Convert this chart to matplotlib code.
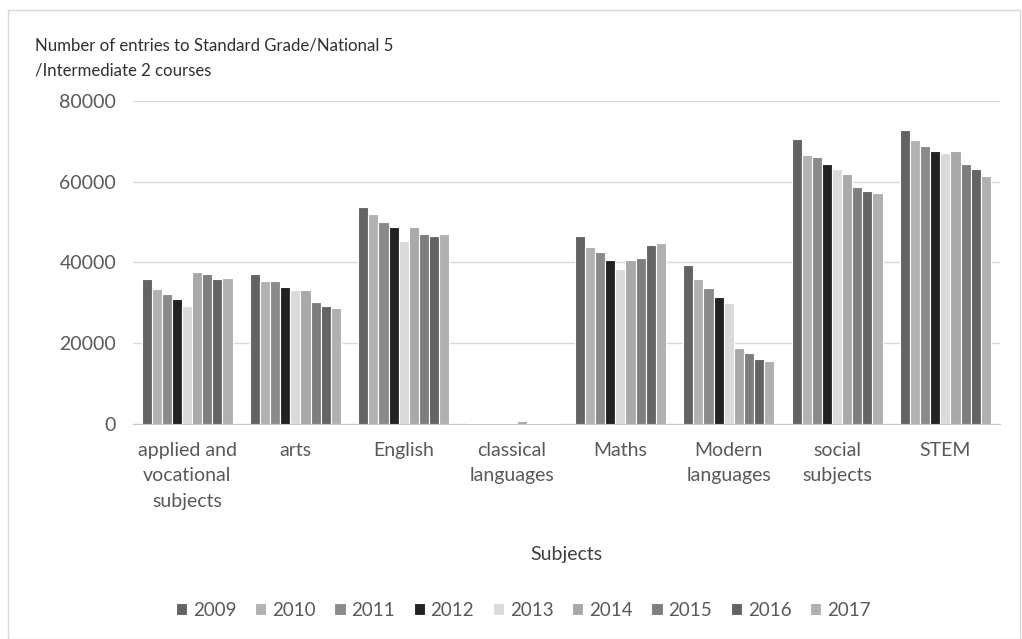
import matplotlib
matplotlib.use("Agg")
from matplotlib import pyplot as plt
from matplotlib.patches import Rectangle
import numpy as np

plt.rcParams['font.family'] = ['Lato', 'DejaVu Sans']

subjects = ["applied and\nvocational\nsubjects", "arts", "English", "classical\nlanguages",
            "Maths", "Modern\nlanguages", "social\nsubjects", "STEM"]
years = ["2009", "2010", "2011", "2012", "2013", "2014", "2015", "2016", "2017"]
colors = ["#636363", "#b2b2b2", "#8a8a8a", "#222222", "#dadada",
          "#a9a9a9", "#7e7e7e", "#646464", "#b0b0b0"]

# entries per subject, one list per year
e2009 = [35800, 37200, 53700, 150, 46600, 39400, 70700, 72900]
e2010 = [33500, 35300, 51900, 150, 43900, 35800, 66700, 70300]
e2011 = [32300, 35300, 50100, 150, 42500, 33600, 66200, 68900]
e2012 = [30900, 34000, 48800, 150, 40700, 31400, 64500, 67500]
e2013 = [29100, 33100, 45200, 150, 38500, 30000, 63100, 67100]
e2014 = [37600, 33100, 48800, 700, 40700, 18800, 61800, 67500]
e2015 = [37200, 30100, 47000, 150, 41200, 17500, 58600, 64400]
e2016 = [35800, 29100, 46600, 150, 44300, 16200, 57800, 63100]
e2017 = [36200, 28700, 47000, 150, 44700, 15700, 57300, 61300]
series = [e2009, e2010, e2011, e2012, e2013, e2014, e2015, e2016, e2017]

fig = plt.figure(figsize=(10.22, 6.39), dpi=100)
ax = fig.add_axes([0.130, 0.3365, 0.848, 0.5055])

x = np.arange(len(subjects))
group = 0.84
w = group / len(series)
for i, vals in enumerate(series):
    ax.bar(x - group / 2 + w * (i + 0.5), vals, width=w, color=colors[i],
           edgecolor="white", linewidth=0.8, label=years[i], zorder=3)

ax.set_xlim(-0.5, 7.5)
ax.set_ylim(0, 80000)
ax.set_yticks([0, 20000, 40000, 60000, 80000])
ax.set_xticks(x)
ax.set_xticklabels(subjects, fontsize=14, color="#595959", linespacing=1.6)
ax.tick_params(axis="y", labelsize=14, labelcolor="#595959", length=0, pad=12)
ax.tick_params(axis="x", length=0, pad=13)
ax.grid(axis="y", color="#d9d9d9", linewidth=1, zorder=0)
for s in ["top", "right", "left"]:
    ax.spines[s].set_visible(False)
ax.spines["bottom"].set_color("#c8c8c8")

ax.set_xlabel("Subjects", fontsize=14, color="#404040", labelpad=26)

fig.text(0.034, 0.942, "Number of entries to Standard Grade/National 5\n/Intermediate 2 courses",
         fontsize=12.1, color="#303030", va="top", ha="left", linespacing=1.75)

fig.legend(loc="center", bbox_to_anchor=(0.512, 0.045), ncol=9, frameon=False,
           fontsize=13.5, handlelength=0.6, handleheight=0.6, handletextpad=0.3,
           columnspacing=1.0, labelcolor="#595959")

fig.patches.append(Rectangle((0.008, 0.0), 0.99, 0.984, transform=fig.transFigure,
                             fill=False, edgecolor="#d9d9d9", linewidth=1))

fig.savefig("out.png", dpi=100)
